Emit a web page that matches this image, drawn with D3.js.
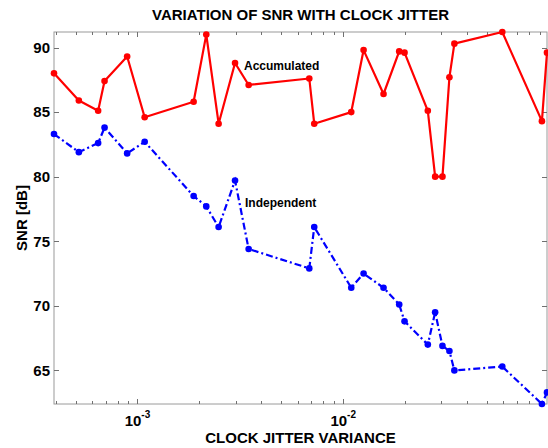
<!DOCTYPE html>
<html><head><meta charset="utf-8">
<script src="https://cdn.jsdelivr.net/npm/d3@7"></script>
<style>
body{margin:0;background:#fff}
text{font-family:"Liberation Sans",Arial,sans-serif;font-weight:bold;fill:#000}
</style>
</head><body>
<svg id="c" width="548" height="448"></svg>
<script>
const jitterVariance = [0.000393, 0.000519, 0.000644, 0.000692, 0.000891, 0.001084, 0.001875, 0.00216, 0.00248, 0.00298, 0.00347, 0.00684, 0.00723, 0.01094, 0.01256, 0.0157, 0.01871, 0.01986, 0.02577, 0.02797, 0.03036, 0.03282, 0.03469, 0.0593, 0.0924, 0.0978];
const accumulatedSNR = [88.0, 85.9, 85.1, 87.4, 89.3, 84.6, 85.8, 91.0, 84.1, 88.8, 87.1, 87.6, 84.1, 85.0, 89.8, 86.4, 89.7, 89.6, 85.1, 80.0, 80.0, 87.7, 90.3, 91.2, 84.3, 89.6];
const independentSNR = [83.3, 81.9, 82.6, 83.8, 81.8, 82.7, 78.5, 77.7, 76.1, 79.7, 74.4, 72.9, 76.1, 71.4, 72.5, 71.4, 70.1, 68.8, 67.0, 69.5, 66.9, 66.5, 65.0, 65.3, 62.4, 63.3];
const yTicks = [65, 70, 75, 80, 85, 90];
const xMajorTicks = [1e-3, 1e-2];
const xMajorLabels = [["10", "-3"], ["10", "-2"]];
const titleText = "VARIATION OF SNR WITH CLOCK JITTER";
const xLabel = "CLOCK JITTER VARIANCE";
const yLabel = "SNR [dB]";
const seriesNames = ["Accumulated", "Independent"];

const L = 54, R = 547, T = 32, B = 404;
const svg = d3.select("#c");
const x = d3.scaleLog().domain(d3.extent(jitterVariance)).range([L, R]);
const allY = accumulatedSNR.concat(independentSNR);
const y = d3.scaleLinear().domain(d3.extent(allY)).range([B, T]);

const axisColor = "#9a9a9a";
svg.append("rect").attr("x", L).attr("y", T).attr("width", R - L).attr("height", B - T)
  .attr("fill", "none").attr("stroke", axisColor).attr("stroke-width", 1);

const [d0, d1] = x.domain();
const minorTicks = [];
for (let e = Math.floor(Math.log10(d0)); e <= Math.ceil(Math.log10(d1)); e++) {
  for (let m = 1; m <= 9; m++) {
    const v = m * Math.pow(10, e);
    if (v >= d0 && v <= d1) minorTicks.push({v, major: m === 1});
  }
}
const tg = svg.append("g").attr("stroke", "#707070").attr("stroke-width", 1);
minorTicks.forEach(t => {
  const px = Math.round(x(t.v)) + 0.5;
  const len = t.major ? 5 : 3;
  tg.append("line").attr("x1", px).attr("x2", px).attr("y1", B).attr("y2", B - len);
  tg.append("line").attr("x1", px).attr("x2", px).attr("y1", T).attr("y2", T + len);
});
yTicks.forEach(v => {
  const py = Math.round(y(v)) + 0.5;
  tg.append("line").attr("x1", L).attr("x2", L + 5).attr("y1", py).attr("y2", py);
  tg.append("line").attr("x1", R).attr("x2", R - 5).attr("y1", py).attr("y2", py);
});

svg.append("g").selectAll("text").data(yTicks).join("text")
  .attr("x", L - 4).attr("y", d => y(d)).attr("dy", "0.36em")
  .attr("text-anchor", "end").attr("font-size", 15).text(d => d);

xMajorTicks.forEach((v, i) => {
  const t = svg.append("text").attr("x", x(v)).attr("y", 426)
    .attr("text-anchor", "middle").attr("font-size", 15);
  t.append("tspan").text(xMajorLabels[i][0]);
  t.append("tspan").attr("font-size", 10).attr("dy", -8).text(xMajorLabels[i][1]);
});

svg.append("text").attr("x", (L + R) / 2).attr("y", 20).attr("text-anchor", "middle")
  .attr("font-size", 15).text(titleText);
svg.append("text").attr("x", (L + R) / 2).attr("y", 443).attr("text-anchor", "middle")
  .attr("font-size", 15).text(xLabel);
svg.append("text").attr("transform", `translate(27,${(T + B) / 2}) rotate(-90)`)
  .attr("text-anchor", "middle").attr("font-size", 15).text(yLabel);

const line = d3.line().x(d => x(d[0])).y(d => y(d[1]));
const accData = jitterVariance.map((v, i) => [v, accumulatedSNR[i]]);
const indData = jitterVariance.map((v, i) => [v, independentSNR[i]]);

svg.append("path").datum(accData).attr("d", line).attr("fill", "none")
  .attr("stroke", "#ff0000").attr("stroke-width", 2.2).attr("stroke-linejoin", "round");
svg.append("g").selectAll("circle").data(accData).join("circle")
  .attr("cx", d => x(d[0])).attr("cy", d => y(d[1])).attr("r", 3.3).attr("fill", "#ff0000");

svg.append("path").datum(indData).attr("d", line).attr("fill", "none")
  .attr("stroke", "#0000ff").attr("stroke-width", 2.2)
  .attr("stroke-dasharray", "7,3,2,3");
svg.append("g").selectAll("circle").data(indData).join("circle")
  .attr("cx", d => x(d[0])).attr("cy", d => y(d[1])).attr("r", 3.3).attr("fill", "#0000ff");

svg.append("text").attr("x", 244).attr("y", 70).attr("font-size", 12).text(seriesNames[0]);
svg.append("text").attr("x", 245).attr("y", 207).attr("font-size", 12).text(seriesNames[1]);
</script>
</body></html>
